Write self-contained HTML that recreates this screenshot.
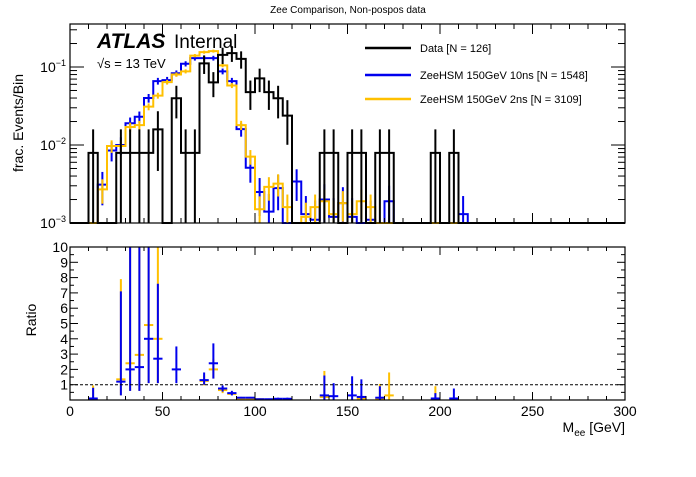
<!DOCTYPE html>
<html><head><meta charset="utf-8">
<style>
body{margin:0;background:#fff;width:696px;height:472px;overflow:hidden}
svg{font-family:"Liberation Sans",sans-serif}
</style></head>
<body>
<svg id="c" width="696" height="472" viewBox="0 0 696 472">
<text x="348" y="13" font-size="10" text-anchor="middle">Zee Comparison, Non-pospos data</text>
<text transform="translate(23,123) rotate(-90)" font-size="14" text-anchor="middle">frac. Events/Bin</text>
<text transform="translate(36,320) rotate(-90)" font-size="14" text-anchor="middle">Ratio</text>
<text x="625" y="432" font-size="14" text-anchor="end">M<tspan font-size="10" dy="4">ee</tspan><tspan dy="-4"> [GeV]</tspan></text>
<text x="97" y="48" font-size="21" font-weight="bold" font-style="italic">ATLAS</text>
<text x="174" y="48" font-size="19">Internal</text>
<text x="97" y="68" font-size="13">√s = 13 TeV</text>
<g>
<line x1="365" y1="48" x2="411" y2="48" stroke="#000" stroke-width="2.5"/>
<text x="420" y="52" font-size="11">Data [N = 126]</text>
<line x1="365" y1="75" x2="411" y2="75" stroke="#0000ee" stroke-width="2.5"/>
<text x="420" y="79" font-size="11">ZeeHSM 150GeV 10ns [N = 1548]</text>
<line x1="365" y1="99" x2="411" y2="99" stroke="#ffc000" stroke-width="2.5"/>
<text x="420" y="103" font-size="11">ZeeHSM 150GeV 2ns [N = 3109]</text>
</g>
<g id="plot"></g>
</svg>
<script>
const nBins = 60;
const binWidth = 5;
const dataCounts = [0,0,1,0,0,1,1,1,1,2,0,5,1,1,14,8,18,19,16,6,9,6,5,3,0,0,0,1,1,0,1,1,0,1,1,0,0,0,0,1,0,1];
const dataN = 126;
const blueVals = [0,0,0,0.0031,0.0085,0.010,0.019,0.023,0.040,0.066,0.068,0.083,0.11,0.13,0.13,0.13,0.088,0.066,0.016,0.0051,0.0025,0.0014,0.0028,0,0.0034,0.0013,0.0011,0.0020,0.0012,0.0018,0.0012,0,0.0011,0,0.0019,0,0,0,0,0,0,0,0.0013];
const blueN = 1548;
const yellowVals = [0,0,0,0.0027,0.0097,0.0097,0.017,0.018,0.031,0.043,0.064,0.080,0.088,0.14,0.155,0.16,0.105,0.058,0.018,0.0071,0.0015,0.0029,0.0032,0.0016,0,0.0012,0.0016,0.0019,0.0013,0.0018,0.0013,0.0019,0.0016,0];
const yellowN = 3109;
// ratio points: bin index, value, low, high
const blueRatioBins = [2,5,6,7,8,9,11,14,15,16,17,18,19,20,21,22,23,27,28,30,31,33,39,41];
const blueRatioVals = [0.1,1.2,2.0,2.15,4.0,2.7,2.0,1.3,2.4,0.75,0.45,0.15,0.15,0.05,0.05,0.08,0.08,0.3,0.25,0.3,0.2,0.15,0.1,0.1];
const blueRatioLo = [0,0.3,0.6,0.6,1.1,1.1,1.1,1.0,1.4,0.55,0.3,0.1,0.1,0,0,0,0,0,0,0,0,0,0,0];
const blueRatioHi = [0.8,7.1,10,10,10,7.6,3.5,1.8,3.7,0.95,0.6,0.2,0.2,0.1,0.1,0.15,0.15,1.6,1.1,1.55,1.35,0.9,0.45,0.75];
const yellowRatioBins = [2,5,6,7,8,9,14,15,16,17,18,19,20,27,31,33,34,39];
const yellowRatioVals = [0.05,1.35,2.4,2.95,4.9,4.0,1.25,2.0,0.65,0.4,0.1,0.05,0.05,0.2,0.1,0.05,0.3,0.05];
const yellowRatioLo = [0,0.3,0.6,0.6,1.1,1.1,0.95,1.4,0.45,0.35,0.05,0,0,0,0,0,0,0];
const yellowRatioHi = [0.95,7.9,10,10,10,10,1.6,2.7,0.85,0.5,0.15,0.1,0.1,1.9,0.3,1.05,1.8,0.9];
const xTickLabels = [0,50,100,150,200,250,300];
const ratioTickLabels = [1,2,3,4,5,6,7,8,9,10];

const X0=70,X1=625,T0=24,T1=223,R0=247,R1=400;
const sx = v => X0 + (v/300)*(X1-X0);
const sy = v => { if(v<=0) return T1; let y = T1-(Math.log10(v)+3)*78; return Math.max(T0,Math.min(T1,y)); };
const sr = v => Math.max(R0, R1 - v*(R1-R0)/10);
const NS='http://www.w3.org/2000/svg';
const g=document.getElementById('plot');
function mk(t,a,name){const e=document.createElementNS(NS,t);for(const k in a)e.setAttribute(k,a[k]);


g.appendChild(e);return e;}

function hist(vals,N,color,name,isData){
  let d=`M${X0},${T1}`;
  for(let i=0;i<nBins;i++){const v=vals[i]||0;const y=sy(isData?v/N:v);
    d+=` L${sx(i*binWidth)},${y} L${sx((i+1)*binWidth)},${y}`;}
  mk('path',{d:d,fill:'none',stroke:color,'stroke-width':2},name+'-hist');
  for(let i=0;i<vals.length;i++){const v=vals[i]||0;if(v<=0)continue;
    const f=isData?v/N:v; const e=isData?Math.sqrt(v)/N:Math.sqrt(v*N)/N;
    const cx=sx((i+0.5)*binWidth);
    mk('line',{x1:cx,x2:cx,y1:sy(f+e),y2:f-e>0?sy(f-e):T1,stroke:color,'stroke-width':2},name+'-error-bar');}
}
hist(blueVals,blueN,'#0000ee','ztohsm-10ns',false);
hist(yellowVals,yellowN,'#ffc000','ztohsm-2ns',false);
hist(dataCounts,dataN,'#000','data',true);

function ratio(bins,vals,lo,hi,color,name){
  for(let k=0;k<bins.length;k++){const i=bins[k];const cx=sx((i+0.5)*binWidth);
    mk('line',{x1:cx,x2:cx,y1:sr(hi[k]),y2:sr(lo[k]),stroke:color,'stroke-width':2},name+'-ratio-error');
    mk('line',{x1:sx(i*binWidth),x2:sx((i+1)*binWidth),y1:sr(vals[k]),y2:sr(vals[k]),stroke:color,'stroke-width':2},name+'-ratio-point');}
}
ratio(yellowRatioBins,yellowRatioVals,yellowRatioLo,yellowRatioHi,'#ffc000','ztohsm-2ns');
ratio(blueRatioBins,blueRatioVals,blueRatioLo,blueRatioHi,'#0000ee','ztohsm-10ns');
mk('line',{x1:X0,x2:X1,y1:sr(1),y2:sr(1),stroke:'#000','stroke-width':1,'stroke-dasharray':'3,2'},'ratio-unity-line');

// frames
mk('rect',{x:X0,y:T0,width:X1-X0,height:T1-T0,fill:'none',stroke:'#000','stroke-width':1.2},'top-frame');
mk('rect',{x:X0,y:R0,width:X1-X0,height:R1-R0,fill:'none',stroke:'#000','stroke-width':1.2},'ratio-frame');
// x ticks
for(let v=0;v<=300;v+=10){const x=sx(v);const L=v%50==0?10:5;
  mk('line',{x1:x,x2:x,y1:T1,y2:T1-L,stroke:'#000'},'top-x-tick');
  mk('line',{x1:x,x2:x,y1:T0,y2:T0+L,stroke:'#000'},'top-x-tick');
  mk('line',{x1:x,x2:x,y1:R1,y2:R1-L*0.8,stroke:'#000'},'ratio-x-tick');
  mk('line',{x1:x,x2:x,y1:R0,y2:R0+L*0.8,stroke:'#000'},'ratio-x-tick');}
xTickLabels.forEach(v=>{const t=mk('text',{x:sx(v),y:416,'font-size':14,'text-anchor':'middle'},'x-tick-label');t.textContent=v;});
// log y ticks
for(let p=-3;p<=-1;p++){for(let m=1;m<=9;m++){const v=m*Math.pow(10,p);const y=sy(v);if(y<=T0)continue;const L=m==1?14:7;
  mk('line',{x1:X0,x2:X0+L,y1:y,y2:y,stroke:'#000'},'y-tick');
  mk('line',{x1:X1,x2:X1-L,y1:y,y2:y,stroke:'#000'},'y-tick');}
  const t=mk('text',{x:X0-4,y:sy(Math.pow(10,p))+5,'font-size':14,'text-anchor':'end'},'y-tick-label');
  t.innerHTML='10<tspan font-size="9" dy="-6">'+(p==-1?'−1':p==-2?'−2':'−3')+'</tspan>';}
// ratio y ticks
for(let v=0;v<=10;v+=0.5){const y=sr(v);const L=(v%1==0)?8:4;
  mk('line',{x1:X0,x2:X0+L,y1:y,y2:y,stroke:'#000'},'ratio-y-tick');
  mk('line',{x1:X1,x2:X1-L,y1:y,y2:y,stroke:'#000'},'ratio-y-tick');}
ratioTickLabels.forEach(v=>{const t=mk('text',{x:X0-2,y:sr(v)+5,'font-size':14,'text-anchor':'end'},'ratio-tick-label');t.textContent=v;});
</script>
</body></html>
